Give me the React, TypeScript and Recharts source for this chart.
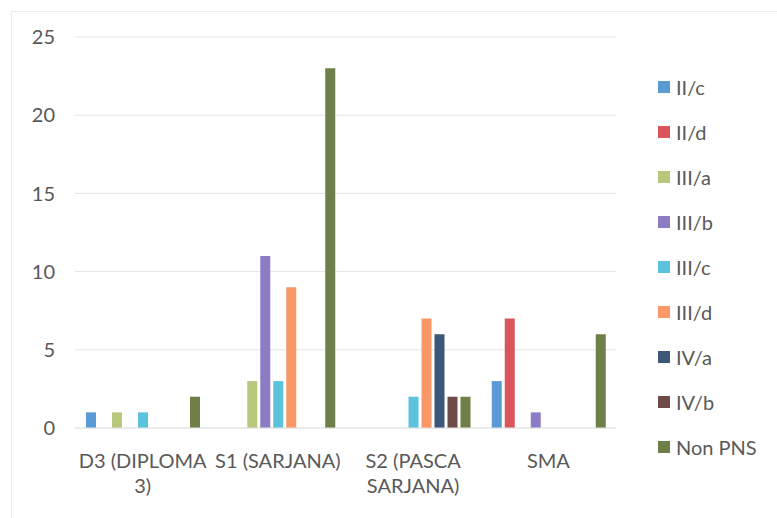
import React from 'react';
import { BarChart, Bar, XAxis, YAxis, CartesianGrid } from 'recharts';

const categories = ['D3 (DIPLOMA 3)', 'S1 (SARJANA)', 'S2 (PASCA SARJANA)', 'SMA'];
const seriesNames = ['II/c', 'II/d', 'III/a', 'III/b', 'III/c', 'III/d', 'IV/a', 'IV/b', 'Non PNS'];
const colors = [
  '#5B9BD5', '#D9545C', '#B7C77B', '#8C7CC4', '#5BC3DE',
  '#F99866', '#3C5778', '#6E4B47', '#6E8048',
];

// values per series, in category order
const iiC = [1, 0, 0, 3];
const iiD = [0, 0, 0, 7];
const iiiA = [1, 3, 0, 0];
const iiiB = [0, 11, 0, 1];
const iiiC = [1, 3, 2, 0];
const iiiD = [0, 9, 7, 0];
const ivA = [0, 0, 6, 0];
const ivB = [0, 0, 2, 0];
const nonPns = [2, 23, 2, 6];

const yTicks = [0, 5, 10, 15, 20, 25];

const seriesValues = [iiC, iiD, iiiA, iiiB, iiiC, iiiD, ivA, ivB, nonPns];

const data = categories.map((name, i) => {
  const row: Record<string, string | number | null> = { name };
  seriesNames.forEach((s, k) => {
    row[s] = seriesValues[k][i] || null;
  });
  return row;
});

const FONT = 'Lato, "Open Sans", sans-serif';
const FS = 20;

function wrap(text: string, max = 12) {
  const words = text.split(' ');
  const lines: string[] = [];
  let cur = '';
  words.forEach((w) => {
    const next = cur ? cur + ' ' + w : w;
    if (next.length > max && cur) {
      lines.push(cur);
      cur = w;
    } else {
      cur = next;
    }
  });
  if (cur) lines.push(cur);
  return lines;
}

function CategoryTick(props: any) {
  const { x, y, payload } = props;
  const lines = wrap(payload.value);
  return (
    <g transform={`translate(${x},${y})`}>
      {lines.map((l, i) => (
        <text
          key={i}
          x={0}
          y={i * 25}
          dy={32}
          textAnchor="middle"
          fill="#595959"
          fontSize={FS}
          fontFamily={FONT}
        >
          {l}
        </text>
      ))}
    </g>
  );
}

function LegendList() {
  return (
    <div style={{ fontFamily: FONT, fontSize: FS, color: '#595959' }}>
      {seriesNames.map((s, i) => (
        <div key={s} style={{ display: 'flex', alignItems: 'center', height: 45 }}>
          <span
            style={{
              width: 12,
              height: 12,
              background: colors[i],
              display: 'inline-block',
              marginRight: 6,
            }}
          />
          {s}
        </div>
      ))}
    </div>
  );
}

export default function App() {
  return (
    <div
      style={{
        position: 'absolute',
        left: 0,
        top: 0,
        width: 777,
        height: 518,
        background: '#fff',
        overflow: 'hidden',
      }}
    >
      <div
        style={{
          position: 'absolute',
          left: 11,
          top: 11,
          width: 780,
          height: 520,
          border: '1px solid #ececec',
        }}
      />
      <BarChart
        width={777}
        height={518}
        data={data}
        margin={{ top: 37, right: 161, left: 0, bottom: 0 }}
        barSize={10}
        barGap={3}
      >
        <CartesianGrid vertical={false} stroke="#e4e4e4" />
        <XAxis
          dataKey="name"
          axisLine={{ stroke: '#e4e4e4' }}
          tickLine={false}
          height={90}
          interval={0}
          tick={<CategoryTick />}
        />
        <YAxis
          domain={[0, 25]}
          ticks={yTicks}
          width={75}
          axisLine={false}
          tickLine={false}
          tickMargin={14}
          tick={{ fill: '#595959', fontSize: FS, fontFamily: FONT }}
        />
        {seriesNames.map((s, i) => (
          <Bar key={s} dataKey={s} fill={colors[i]} isAnimationActive={false} />
        ))}
      </BarChart>
      <div style={{ position: 'absolute', left: 658, top: 64 }}>
        <LegendList />
      </div>
    </div>
  );
}
